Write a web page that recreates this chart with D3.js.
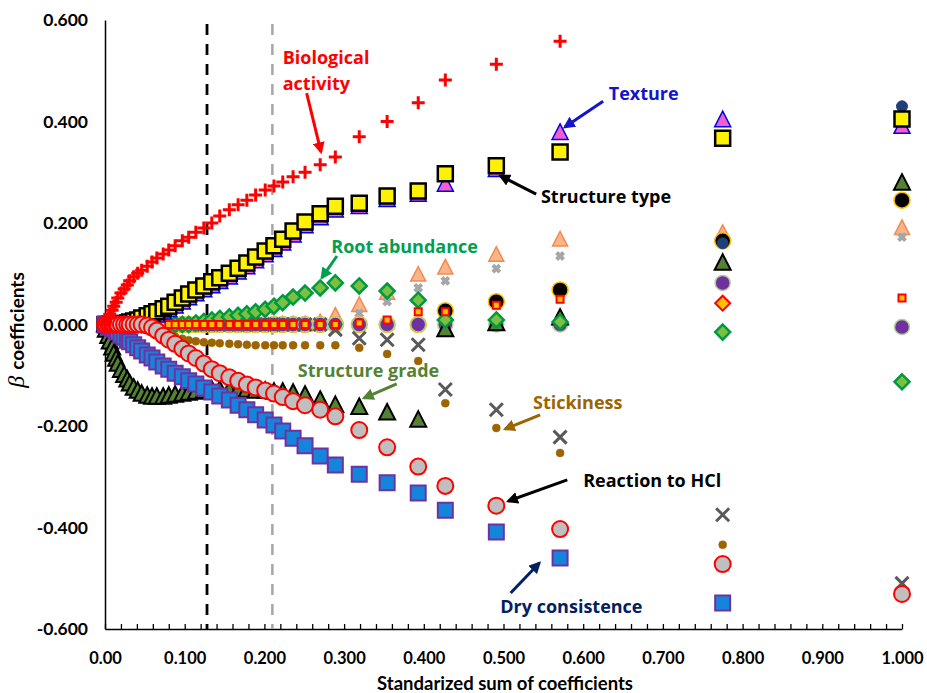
<!DOCTYPE html>
<html>
<head>
  <meta charset="utf-8">
  <title>Coefficient paths</title>
  <style>
    body { margin: 0; background: #fff; }
    text { font-family: Lato, "Open Sans", sans-serif; }
  </style>
  <script src="https://d3js.org/d3.v7.min.js"></script>
</head>
<body>
  <div id="chart"></div>
  <script>
    // standardized sum of coefficients (x) for each step of the path
    const sumCoef = [0.000, 0.001, 0.004, 0.006, 0.009, 0.011, 0.014, 0.016, 0.020, 0.024,
      0.028, 0.031, 0.036, 0.041, 0.046, 0.053, 0.059, 0.065, 0.073, 0.080,
      0.088, 0.097, 0.105, 0.114, 0.124, 0.134, 0.144, 0.156, 0.167, 0.178,
      0.189, 0.201, 0.212, 0.223, 0.236, 0.251, 0.270, 0.289, 0.319, 0.354,
      0.393, 0.427, 0.491, 0.571, 0.775, 1.000];

    const biologicalActivity = [0, 0.005, 0.013, 0.020, 0.028, 0.036, 0.044, 0.052, 0.062, 0.070,
      0.078, 0.086, 0.094, 0.101, 0.107, 0.115, 0.123, 0.131, 0.139, 0.147,
      0.155, 0.165, 0.172, 0.182, 0.190, 0.200, 0.214, 0.226, 0.236, 0.245,
      0.255, 0.265, 0.273, 0.281, 0.291, 0.300, 0.315, 0.330, 0.370, 0.400,
      0.437, 0.482, 0.513, 0.558, null, null];

    const structureType = [0, 0, 0, 0, 0, 0, 0, 0, 0.001, 0.001,
      0.003, 0.005, 0.007, 0.009, 0.013, 0.017, 0.021, 0.025, 0.031, 0.036,
      0.044, 0.052, 0.060, 0.068, 0.076, 0.084, 0.092, 0.101, 0.111, 0.121,
      0.133, 0.145, 0.155, 0.168, 0.184, 0.202, 0.218, 0.233, 0.239, 0.253,
      0.263, 0.297, 0.313, 0.340, 0.367, 0.405];

    const texture = [0, 0, 0, 0, 0, 0, 0, 0, 0, 0,
      0, 0, 0.001, 0.003, 0.006, 0.010, 0.014, 0.018, 0.024, 0.029,
      0.036, 0.044, 0.052, 0.060, 0.068, 0.076, 0.084, 0.093, 0.103, 0.113,
      0.125, 0.137, 0.147, 0.160, 0.176, 0.194, 0.210, 0.225, 0.232, 0.246,
      0.256, 0.276, 0.305, 0.378, 0.403, 0.390];

    const rootAbundance = [0, 0, 0, 0, 0, 0, 0, 0, 0, 0,
      0, 0, 0, 0, 0, 0, 0, 0, 0, 0,
      0, 0, 0, 0.003, 0.006, 0.009, 0.012, 0.015, 0.018, 0.021,
      0.025, 0.030, 0.036, 0.043, 0.054, 0.062, 0.072, 0.082, 0.076, 0.066,
      0.048, 0.009, 0.009, 0.005, -0.015, -0.113];

    const structureGrade = [0, -0.011, -0.023, -0.034, -0.046, -0.058, -0.068, -0.078, -0.090, -0.100,
      -0.109, -0.117, -0.125, -0.131, -0.137, -0.141, -0.143, -0.143, -0.143, -0.141,
      -0.139, -0.137, -0.135, -0.133, -0.131, -0.129, -0.129, -0.129, -0.129, -0.129,
      -0.131, -0.131, -0.133, -0.133, -0.135, -0.139, -0.149, -0.159, -0.163, -0.174,
      -0.188, -0.010, 0.002, 0.013, 0.121, 0.279];

    const stickiness = [0, 0, 0, 0, 0, 0, 0, 0, 0, 0,
      0, 0, 0, 0, 0, 0, -0.005, -0.010, -0.015, -0.020,
      -0.024, -0.028, -0.031, -0.033, -0.035, -0.036, -0.037, -0.038, -0.039, -0.040,
      -0.041, -0.041, -0.041, -0.041, -0.041, -0.041, -0.041, -0.041, -0.046, -0.058,
      -0.072, -0.155, -0.204, -0.253, -0.434, null];

    const reactionHCl = [0, 0, 0, 0, 0, 0, 0, 0, 0, 0,
      0, 0, 0, 0, 0, -0.002, -0.006, -0.012, -0.022, -0.030,
      -0.038, -0.048, -0.057, -0.066, -0.077, -0.088, -0.096, -0.104, -0.111, -0.118,
      -0.124, -0.130, -0.136, -0.143, -0.151, -0.159, -0.168, -0.181, -0.208, -0.242,
      -0.280, -0.318, -0.357, -0.403, -0.472, -0.531];

    const dryConsistence = [0, 0, -0.003, -0.005, -0.007, -0.009, -0.013, -0.015, -0.021, -0.025,
      -0.031, -0.034, -0.040, -0.046, -0.052, -0.060, -0.066, -0.074, -0.082, -0.088,
      -0.096, -0.103, -0.111, -0.117, -0.125, -0.133, -0.141, -0.149, -0.159, -0.168,
      -0.178, -0.188, -0.198, -0.210, -0.224, -0.239, -0.259, -0.277, -0.295, -0.312,
      -0.332, -0.366, -0.409, -0.460, -0.549, null];

    // unlabelled variables
    const grayCross = [0, 0, 0, 0, 0, 0, 0, 0, 0, 0,
      0, 0, 0, 0, 0, 0, 0, 0, 0, 0,
      0, 0, 0, 0, 0, 0, 0, 0, 0, 0,
      0, 0, 0, 0, 0, 0, 0, -0.010, -0.027, -0.030,
      -0.040, -0.128, -0.168, -0.222, -0.375, -0.510];

    const orangeTri = [0, 0, 0, 0, 0, 0, 0, 0, 0, 0,
      0, 0, 0, 0, 0, 0, 0, 0, 0, 0,
      0, 0, 0, 0, 0, 0, 0, 0, 0, 0,
      0, 0, 0, 0, 0, 0, 0.004, 0.017, 0.038, 0.062,
      0.098, 0.112, 0.137, 0.167, 0.180, 0.190];

    const lightX = [0, 0, 0, 0, 0, 0, 0, 0, 0, 0,
      0, 0, 0, 0, 0, 0, 0, 0, 0, 0,
      0, 0, 0, 0, 0, 0, 0, 0, 0, 0,
      0, 0, 0, 0, 0, 0, 0, 0, 0.022, 0.045,
      0.072, 0.086, 0.110, 0.135, 0.165, 0.172];

    const blackCircle = [0, 0, 0, 0, 0, 0, 0, 0, 0, 0,
      0, 0, 0, 0, 0, 0, 0, 0, 0, 0,
      0, 0, 0, 0, 0, 0, 0, 0, 0, 0,
      0, 0, 0, 0, 0, 0, 0, 0, 0, 0,
      0, 0.027, 0.045, 0.068, 0.165, 0.245];

    const navyCircle = [0, 0, 0, 0, 0, 0, 0, 0, 0, 0,
      0, 0, 0, 0, 0, 0, 0, 0, 0, 0,
      0, 0, 0, 0, 0, 0, 0, 0, 0, 0,
      0, 0, 0, 0, 0, 0, 0, 0, 0, 0,
      0, 0, 0, 0, 0.160, 0.430];

    const purpleCircle = [0, 0, 0, 0, 0, 0, 0, 0, 0, 0,
      0, 0, 0, 0, 0, 0, 0, 0, 0, 0,
      0, 0, 0, 0, 0, 0, 0, 0, 0, 0,
      0, 0, 0, 0, 0, 0, 0, 0, 0, 0,
      0, 0, 0, 0, 0.082, -0.005];

    const smallSquare = [0, 0, 0, 0, 0, 0, 0, 0, 0, 0,
      0, 0, 0, 0, 0, 0, 0, 0, 0, 0,
      0, 0, 0, 0, 0, 0, 0, 0, 0, 0,
      0, 0, 0, 0, 0, 0, 0, 0, 0.003, 0.009,
      0.025, 0.025, 0.038, 0.050, null, 0.052];

    const orangeDiamond = [null, null, null, null, null, null, null, null, null, null,
      null, null, null, null, null, null, null, null, null, null,
      null, null, null, null, null, null, null, null, null, null,
      null, null, null, null, null, null, null, null, null, null,
      null, null, null, null, 0.042, null];

    const xTickLabels = ["0.00", "0.100", "0.200", "0.300", "0.400", "0.500", "0.600", "0.700", "0.800", "0.900", "1.000"];
    const yTicks = [-0.6, -0.4, -0.2, 0, 0.2, 0.4, 0.6];
    const cutLines = [0.128, 0.21];

    const W = 927, H = 693;
    const svg = d3.select("#chart").append("svg")
      .attr("width", W)
      .attr("height", H);

    const x = d3.scaleLinear().domain([0, 1]).range([105, 902]);
    const y = d3.scaleLinear().domain([-0.6, 0.6]).range([629, 20]);

    // y axis: plain line with labels, no tick marks
    const yAxis = svg.append("g")
      .attr("transform", `translate(${x(0)},0)`)
      .call(d3.axisLeft(y).tickValues(yTicks).tickSize(0).tickPadding(17)
        .tickFormat(d => d.toFixed(3)));
    yAxis.select(".domain").attr("stroke", "#000").attr("stroke-width", 1.5);
    yAxis.selectAll("text")
      .style("font-size", "17.5px").style("font-weight", "bold").attr("fill", "#000");

    // x axis: small inward ticks every 0.02
    const minor = d3.range(0, 51).map(i => i / 50);
    const xAxis = svg.append("g")
      .attr("transform", `translate(0,${y(-0.6)})`)
      .call(d3.axisBottom(x).tickValues(minor).tickSizeInner(-5).tickSizeOuter(0).tickFormat(""));
    xAxis.select(".domain").attr("stroke", "#000").attr("stroke-width", 1.5);
    xAxis.selectAll(".tick line").attr("stroke", "#000").attr("stroke-width", 1.3);

    const xLab = svg.append("g")
      .attr("transform", `translate(0,${y(-0.6)})`)
      .call(d3.axisBottom(x).tickValues(d3.range(0, 11).map(i => i / 10))
        .tickSize(0).tickPadding(23).tickFormat((d, i) => xTickLabels[i]));
    xLab.select(".domain").remove();
    xLab.selectAll("text")
      .style("font-size", "16.5px").style("font-weight", "bold").attr("fill", "#000");

    // axis titles
    svg.append("text")
      .attr("x", 505).attr("y", 690)
      .attr("text-anchor", "middle")
      .style("font-size", "18.5px").style("font-weight", "bold")
      .text("Standarized sum of coefficients");

    const yTitle = svg.append("text")
      .attr("transform", "translate(24,330) rotate(-90)")
      .attr("text-anchor", "middle");
    yTitle.append("tspan")
      .style("font-family", "'Liberation Serif', serif")
      .style("font-style", "italic")
      .style("font-size", "24px")
      .text("β ");
    yTitle.append("tspan")
      .style("font-size", "19px").style("font-weight", "bold")
      .text("coefficients");

    // dashed cut lines
    svg.append("line")
      .attr("x1", x(cutLines[0])).attr("x2", x(cutLines[0]))
      .attr("y1", y(0.6) + 4).attr("y2", y(-0.6))
      .attr("stroke", "#000").attr("stroke-width", 2.8).attr("stroke-dasharray", "11,9");
    svg.append("line")
      .attr("x1", x(cutLines[1])).attr("x2", x(cutLines[1]))
      .attr("y1", y(0.6) + 4).attr("y2", y(-0.6))
      .attr("stroke", "#A6A6A6").attr("stroke-width", 2.5).attr("stroke-dasharray", "11,9");

    function shapePath(kind, s) {
      const h = s / 2;
      if (kind === "square") return `M${-h},${-h}H${h}V${h}H${-h}Z`;
      if (kind === "diamond") return `M0,${-h}L${h},0L0,${h}L${-h},0Z`;
      if (kind === "triangle") return `M0,${-s * 0.55}L${h},${s * 0.42}L${-h},${s * 0.42}Z`;
      if (kind === "circle") return `M${h},0A${h},${h} 0 1,1 ${-h},0A${h},${h} 0 1,1 ${h},0Z`;
      if (kind === "plus") return `M${-h},0H${h}M0,${-h}V${h}`;
      if (kind === "cross") return `M${-h},${-h}L${h},${h}M${-h},${h}L${h},${-h}`;
    }

    // drawing order: first is at the bottom
    const series = [
      { values: orangeDiamond, shape: "diamond", size: 15, fill: "#FFC000", stroke: "#FF0000", sw: 2 },
      { values: orangeTri, shape: "triangle", size: 15, fill: "#F8B58A", stroke: "#F4894F", sw: 1.5 },
      { values: lightX, shape: "cross", size: 7, fill: "none", stroke: "#A6A6A6", sw: 4 },
      { values: blackCircle, shape: "circle", size: 16, fill: "#000000", stroke: "#FFC000", sw: 1.5 },
      { values: navyCircle, shape: "circle", size: 11, fill: "#1F3F78", stroke: "#1F3F78", sw: 1 },
      { values: purpleCircle, shape: "circle", size: 15, fill: "#7030A0", stroke: "#A9D18E", sw: 1.5 },
      { values: grayCross, shape: "cross", size: 13, fill: "none", stroke: "#595959", sw: 3 },
      { values: structureGrade, shape: "triangle", size: 16, fill: "#548235", stroke: "#000000", sw: 2 },
      { values: rootAbundance, shape: "diamond", size: 15, fill: "#7BC043", stroke: "#009A3E", sw: 2.5 },
      { values: smallSquare, shape: "square", size: 7, fill: "#FFC000", stroke: "#FF0000", sw: 2 },
      { values: stickiness, shape: "circle", size: 8, fill: "#9C6500", stroke: "#9C6500", sw: 0.5 },
      { values: texture, shape: "triangle", size: 16, fill: "#F25ED0", stroke: "#0000E0", sw: 1.5 },
      { values: structureType, shape: "square", size: 15, fill: "#FFF200", stroke: "#000000", sw: 2.5 },
      { values: dryConsistence, shape: "square", size: 15, fill: "#1585DB", stroke: "#7030A0", sw: 2 },
      { values: reactionHCl, shape: "circle", size: 16, fill: "#BFBFBF", stroke: "#FF0000", sw: 2 },
      { values: biologicalActivity, shape: "plus", size: 13, fill: "none", stroke: "#FF0000", sw: 3 }
    ];

    series.forEach(s => {
      const pts = sumCoef.map((c, i) => ({ c: c, v: s.values[i] })).filter(p => p.v !== null);
      svg.append("g").selectAll("path")
        .data(pts)
        .enter()
        .append("path")
        .attr("transform", p => `translate(${x(p.c)},${y(p.v)})`)
        .attr("d", shapePath(s.shape, s.size))
        .attr("fill", s.fill)
        .attr("stroke", s.stroke)
        .attr("stroke-width", s.sw)
        .attr("stroke-linejoin", "miter");
    });

    // annotations (in data units)
    const labels = [
      { text: "Biological", color: "#FF0000", at: [0.223, 0.527] },
      { text: "activity", color: "#FF0000", at: [0.223, 0.476] },
      { text: "Texture", color: "#1414CC", at: [0.632, 0.456] },
      { text: "Structure type", color: "#000000", at: [0.547, 0.253] },
      { text: "Root abundance", color: "#00A04E", at: [0.284, 0.155] },
      { text: "Structure grade", color: "#548235", at: [0.242, -0.090] },
      { text: "Stickiness", color: "#9C6500", at: [0.537, -0.153] },
      { text: "Reaction to HCl", color: "#000000", at: [0.600, -0.306] },
      { text: "Dry consistence", color: "#002060", at: [0.496, -0.555] }
    ];
    const arrows = [
      { color: "#FF0000", from: [0.253, 0.456], to: [0.271, 0.340] },
      { color: "#1414CC", from: [0.625, 0.440], to: [0.577, 0.389] },
      { color: "#000000", from: [0.541, 0.257], to: [0.496, 0.293] },
      { color: "#00A04E", from: [0.291, 0.135], to: [0.272, 0.092] },
      { color: "#548235", from: [0.366, -0.117], to: [0.325, -0.145] },
      { color: "#9C6500", from: [0.546, -0.178], to: [0.502, -0.206] },
      { color: "#000000", from: [0.580, -0.306], to: [0.506, -0.348] },
      { color: "#002060", from: [0.509, -0.529], to: [0.545, -0.470] }
    ];

    const defs = svg.append("defs");
    arrows.forEach((a, i) => {
      defs.append("marker")
        .attr("id", "head" + i)
        .attr("viewBox", "0 0 10 10")
        .attr("refX", 8).attr("refY", 5)
        .attr("markerUnits", "userSpaceOnUse")
        .attr("markerWidth", 12).attr("markerHeight", 12)
        .attr("orient", "auto")
        .append("path")
        .attr("d", "M0,0L10,5L0,10Z")
        .attr("fill", a.color);
      svg.append("line")
        .attr("x1", x(a.from[0])).attr("y1", y(a.from[1]))
        .attr("x2", x(a.to[0])).attr("y2", y(a.to[1]))
        .attr("stroke", a.color).attr("stroke-width", 3)
        .attr("marker-end", `url(#head${i})`);
    });

    svg.append("g").selectAll("text")
      .data(labels)
      .enter()
      .append("text")
      .attr("x", d => x(d.at[0]))
      .attr("y", d => y(d.at[1]))
      .attr("dominant-baseline", "central")
      .attr("fill", d => d.color)
      .style("font-family", "'Open Sans', Lato, sans-serif")
      .style("font-size", "18px")
      .style("font-weight", "bold")
      .text(d => d.text);
  </script>
</body>
</html>
